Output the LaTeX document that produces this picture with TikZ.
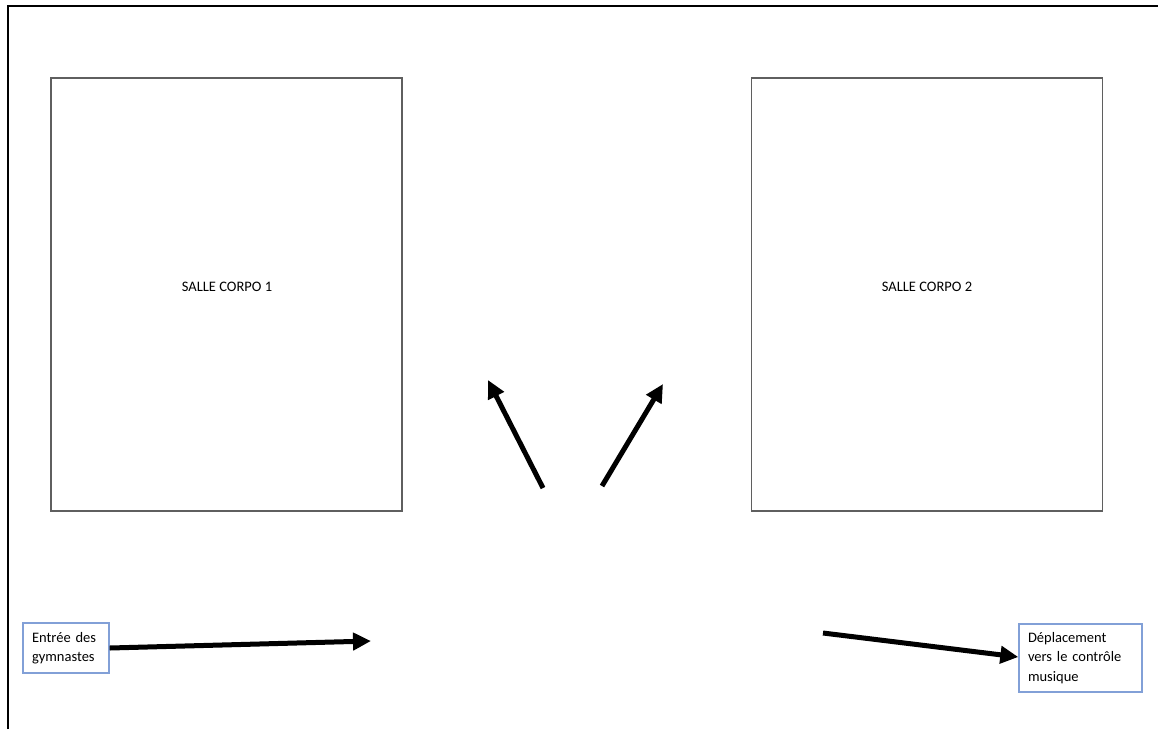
\documentclass[tikz,border=0pt]{standalone}
\usepackage{fontspec}
\setmainfont{Carlito}
\usetikzlibrary{arrows.meta}
\definecolor{roomgray}{RGB}{95,95,95}
\definecolor{labelblue}{RGB}{130,160,215}
\tikzset{
  room/.style={draw=roomgray, line width=1.4pt, minimum width=351pt, minimum height=433pt, inner sep=0pt},
  roomtext/.style={font=\fontsize{14.5}{18}\selectfont, inner sep=0pt},
  infobox/.style={draw=labelblue, line width=1.4pt, fill=white, font=\fontsize{14.5}{19.5}\selectfont, align=left, inner sep=0pt},
  bigarrow/.style={line width=5pt, -{Triangle[length=18pt,width=17pt]}},
  frameline/.style={line width=2.2pt, black}
}
\begin{document}
\begin{tikzpicture}[x=1pt,y=-1pt]
\useasboundingbox (0,0) rectangle (1158,729);
% frame
\coordinate (fbl) at (8.3,729);
\coordinate (ftl) at (8.3,6);
\coordinate (ftr) at (1158,6);
\draw[frameline] (fbl) -- (ftl) -- (ftr);
% rooms
\node[room] (room1) at (226.5,294.5) {};
\node[roomtext] (t1) at (227,287) {SALLE CORPO 1};
\node[room] (room2) at (927,294.5) {};
\node[roomtext] (t2) at (927,287) {SALLE CORPO 2};
% info boxes
\node[infobox, minimum width=86pt, minimum height=50pt, text width=68pt] (entree) at (66,648) {\makebox[68pt][s]{Entrée des}\\gymnastes};
\node[infobox, minimum width=123pt, minimum height=68pt, text width=105pt] (deplac) at (1080.5,658) {Déplacement\\vers le contrôle\\musique};
% arrows
\coordinate (a1e) at (371,641);
\draw[bigarrow] (entree.east) ++(0,0) -- (a1e);
\coordinate (a2s) at (823,633);
\draw[bigarrow] (a2s) -- (deplac.west |- 0,657);
\coordinate (a3s) at (543,488);
\coordinate (a3e) at (488,380);
\draw[bigarrow] (a3s) -- (a3e);
\coordinate (a4s) at (602,486);
\coordinate (a4e) at (663,384);
\draw[bigarrow] (a4s) -- (a4e);
\end{tikzpicture}
\end{document}
